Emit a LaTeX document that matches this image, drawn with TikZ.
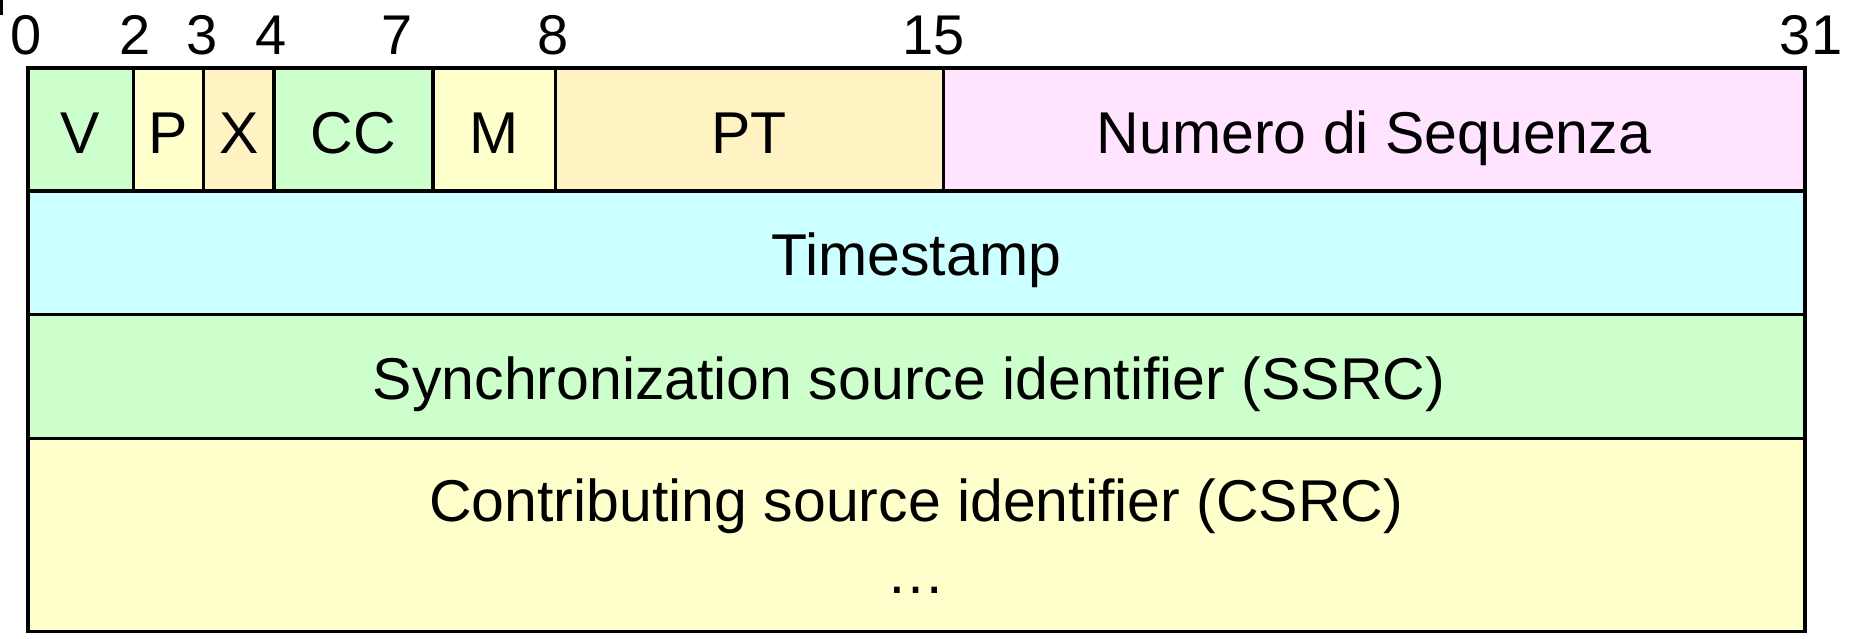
\documentclass[tikz,border=0pt]{standalone}
\usepackage{fontspec}
\setmainfont{Liberation Sans}
\definecolor{cgreen}{HTML}{CCFFCC}
\definecolor{cyellow}{HTML}{FFFFCC}
\definecolor{corange}{HTML}{FFF3C4}
\definecolor{cpink}{HTML}{FFE3FF}
\definecolor{ccyan}{HTML}{CCFFFF}
\begin{document}
\begin{tikzpicture}[x=1pt,y=-1pt,
  cell/.style={draw=black, line width=3.6pt},
  celltext/.style={font=\fontsize{59}{70}\selectfont, anchor=base, inner sep=0pt},
  bitnum/.style={font=\fontsize{56}{66}\selectfont, anchor=base, inner sep=0pt}]
\useasboundingbox (0,0) rectangle (1860,639);
% tiny mark at top-left
\fill[black] (0,0) rectangle (2.7,15);
% row 1
\draw[cell, fill=cgreen]  (27.7,68.3) rectangle (133.3,191);
\draw[cell, fill=cyellow] (133.3,68.3) rectangle (203.3,191);
\draw[cell, fill=corange] (203.3,68.3) rectangle (274.2,191);
\draw[cell, fill=cgreen]  (274.2,68.3) rectangle (432.7,191);
\draw[cell, fill=cyellow] (432.7,68.3) rectangle (555.3,191);
\draw[cell, fill=corange] (555.3,68.3) rectangle (943.3,191);
\draw[cell, fill=cpink]   (943.3,68.3) rectangle (1805,191);
% rows 2-4
\draw[cell, fill=ccyan]   (27.7,191) rectangle (1805,314.3);
\draw[cell, fill=cgreen]  (27.7,314.3) rectangle (1805,438.3);
\draw[cell, fill=cyellow] (27.7,438.3) rectangle (1805,631.5);
% texts
\node[celltext] (v)   at (80.5,153.3) {V};
\node[celltext] (p)   at (168.3,153.3) {P};
\node[celltext] (x)   at (238.8,153.3) {X};
\node[celltext] (cc)  at (353.5,153.3) {CC};
\node[celltext] (m)   at (494,153.3) {M};
\node[celltext] (pt)  at (749.3,153.3) {PT};
\node[celltext] (seq) at (1374,153.3) {Numero di Sequenza};
\node[celltext] (ts)  at (916.3,275) {Timestamp};
\node[celltext] (ssrc) at (909,399.5) {Synchronization source identifier (SSRC)};
\node[celltext] (csrc) at (916.3,521.7) {Contributing source identifier (CSRC)};
\node[celltext] (dots) at (916.3,593) {…};
% bit numbers
\node[bitnum] (b0)  at (26,55) {0};
\node[bitnum] (b2)  at (135,55) {2};
\node[bitnum] (b3)  at (201.7,55) {3};
\node[bitnum] (b4)  at (270.7,55) {4};
\node[bitnum] (b7)  at (396.7,55) {7};
\node[bitnum] (b8)  at (553.3,55) {8};
\node[bitnum] (b15) at (933.5,55) {15};
\node[bitnum] (b31) at (1811,55) {31};
\end{tikzpicture}
\end{document}
